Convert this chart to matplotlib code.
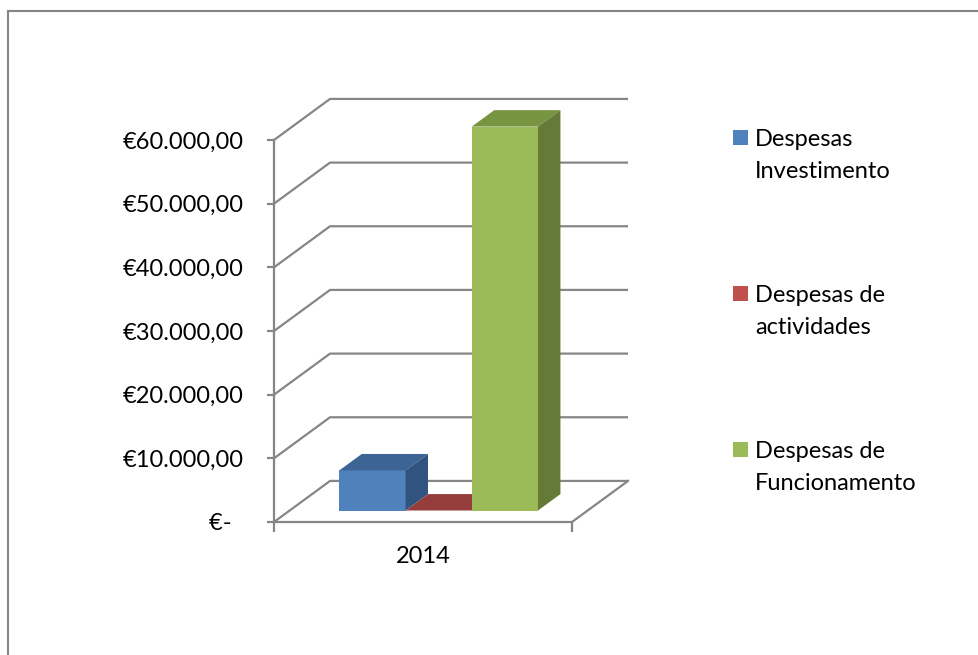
import matplotlib.pyplot as plt
from matplotlib.patches import Polygon, Rectangle
from matplotlib.ticker import FuncFormatter

plt.rcParams['font.family'] = ['Lato', 'DejaVu Sans']

# data
category = "2014"
series = ["Despesas\nInvestimento", "Despesas de\nactividades", "Despesas de\nFuncionamento"]
values = [6300, 0, 60300]
yticks = [0, 10000, 20000, 30000, 40000, 50000, 60000]

front_colors = ["#4F81BD", "#C0504D", "#9BBB59"]
top_colors = ["#3C6494", "#943D3B", "#779440"]
side_colors = ["#31537F", "#7E3432", "#667A37"]
grid_col = "#868686"
fs = 17

W, H = 979, 655
fig = plt.figure(figsize=(W / 100, H / 100), dpi=100)

# plot area: front axis x=274..572 px, value 0 at y=522, 60000 at y=140
ax = fig.add_axes([274 / W, (H - 522) / H, (572 - 274) / W, (522 - 140) / H])
ax.set_xlim(0, 1)
ax.set_ylim(0, 60000)
ax.patch.set_visible(False)

# oblique depth of the 3d box (in data units)
ddx = 0.188
ddy = 6450

for s in ["top", "right"]:
    ax.spines[s].set_visible(False)
for s in ["left", "bottom"]:
    ax.spines[s].set_color(grid_col)
    ax.spines[s].set_linewidth(1.6)


def euro(v, pos):
    if v == 0:
        return "€-\u00a0\u00a0"
    txt = "{:,.2f}".format(v)
    return "€" + txt.replace(",", "#").replace(".", ",").replace("#", ".")


ax.set_yticks(yticks)
ax.yaxis.set_major_formatter(FuncFormatter(euro))
ax.tick_params(axis="y", direction="out", length=5, width=1.6, color=grid_col,
               labelsize=fs, labelcolor="black", pad=17)
ax.set_xticks([0, 1])
ax.set_xticklabels(["", ""])
ax.set_xticks([0.5], minor=True)
ax.set_xticklabels([category], minor=True)
ax.tick_params(axis="x", which="major", direction="out", length=7, width=1.6, color=grid_col)
ax.tick_params(axis="x", which="minor", length=0, labelsize=fs, pad=17)

# side wall diagonals + back wall gridlines
for v in yticks:
    ax.plot([0, ddx, 1 + ddx], [v, v + ddy, v + ddy], color=grid_col, lw=1.6,
            clip_on=False, zorder=1, solid_capstyle="butt")
# floor right edge
ax.plot([1, 1 + ddx], [0, ddy], color=grid_col, lw=1.6, clip_on=False, zorder=1)

# 3d-looking bars
n = len(series)
w = 1 / (n + 1.5)
x0 = 0.75 * w
f0 = 0.28   # depth of the bar front face
fd = 0.40   # depth of the bar itself
for i, v in enumerate(values):
    xl = x0 + i * w + f0 * ddx
    yb = f0 * ddy
    z = 3 + i
    ax.bar(xl, v, width=w, bottom=yb, align="edge", color=front_colors[i],
           lw=0, clip_on=False, zorder=z)
    top = [(xl, yb + v), (xl + w, yb + v),
           (xl + w + fd * ddx, yb + v + fd * ddy), (xl + fd * ddx, yb + v + fd * ddy)]
    side = [(xl + w, yb), (xl + w, yb + v),
            (xl + w + fd * ddx, yb + v + fd * ddy), (xl + w + fd * ddx, yb + fd * ddy)]
    ax.add_patch(Polygon(top, closed=True, color=top_colors[i], lw=0, clip_on=False, zorder=z))
    ax.add_patch(Polygon(side, closed=True, color=side_colors[i], lw=0, clip_on=False, zorder=z))

# legend drawn by hand (Excel puts the key next to the first line)
for i, name in enumerate(series):
    cy = 137.5 + i * 156
    fig.add_artist(Rectangle((733 / W, 1 - (cy + 7.5) / H), 15 / W, 15 / H,
                             transform=fig.transFigure, color=front_colors[i], lw=0))
    fig.text(755 / W, 1 - (cy + 18) / H, name, fontsize=fs, va="center", ha="left",
             linespacing=1.6)

# chart area border (cut off at right and bottom)
fig.add_artist(Rectangle((8 / W, -0.1), 1.2, 1 - 11 / H + 0.1, transform=fig.transFigure,
                         fill=False, edgecolor=grid_col, lw=1.5))

fig.savefig("out.png", dpi=100)
